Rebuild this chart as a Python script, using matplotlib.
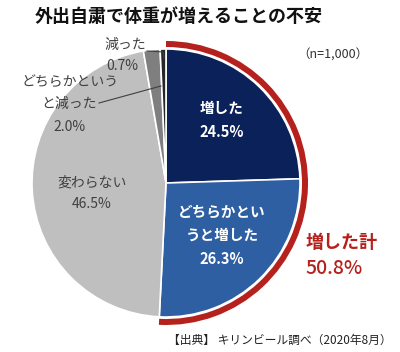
import matplotlib.pyplot as plt
from matplotlib.patches import Wedge

plt.rcParams['font.family'] = ['Noto Sans CJK JP', 'DejaVu Sans']

labels = ['増した', 'どちらかというと増した', '変わらない', 'どちらかというと減った', '減った']
values = [24.5, 26.3, 46.5, 2.0, 0.7]
colors = ['#0b2159', '#2e5fa3', '#bfbfbf', '#7f7f7f', '#262626']
increase_total = 50.8

H = 352
def Y(y):
    return H - y

f = plt.figure(figsize=(4, 3.52), dpi=100)
ax = f.add_axes([0, 0, 1, 1])
ax.set_xlim(0, 400)
ax.set_ylim(0, H)
ax.set_aspect('equal')
ax.axis('off')

cx, cy, r = 166, Y(183), 134
ax.pie(values, colors=colors, startangle=90, counterclock=False,
       center=(cx, cy), radius=r,
       wedgeprops=dict(edgecolor='white', linewidth=1.2))
ax.set_xlim(0, 400)
ax.set_ylim(0, H)

# red arc for the "increased" total
ang = increase_total / 100 * 360
ax.add_patch(Wedge((cx, cy), 142, 90 - ang, 90, width=6, color='#b5211c', lw=0))

# labels
gray = '#404040'
fs = 10
ax.text(146, Y(45), '減った', ha='right', va='center', fontsize=fs, color=gray)
ax.text(122, Y(66), f'{values[4]}%', ha='center', va='center', fontsize=fs, color=gray)
ax.plot([147, 163, 164], [Y(51), Y(52), Y(58)], color='#404040', lw=0.8)

ax.text(70, Y(82), 'どちらかという', ha='center', va='center', fontsize=fs, color=gray)
ax.text(97, Y(104), 'と減った', ha='right', va='center', fontsize=fs, color=gray)
ax.text(70, Y(127), f'{values[3]}%', ha='center', va='center', fontsize=fs, color=gray)
ax.plot([99, 161], [Y(103), Y(86)], color='#404040', lw=0.8)

ax.text(92, Y(183), '変わらない', ha='center', va='center', fontsize=fs, color=gray)
ax.text(92, Y(204), f'{values[2]}%', ha='center', va='center', fontsize=fs, color=gray)

ax.text(222, Y(108), '増した', ha='center', va='center', fontsize=10.5,
        color='white', fontweight='bold')
ax.text(222, Y(132), f'{values[0]}%', ha='center', va='center', fontsize=10.5,
        color='white', fontweight='bold')
ax.text(222, Y(212), 'どちらかとい', ha='center', va='center', fontsize=10.5,
        color='white', fontweight='bold')
ax.text(222, Y(235), 'うと増した', ha='center', va='center', fontsize=10.5,
        color='white', fontweight='bold')
ax.text(222, Y(259), f'{values[1]}%', ha='center', va='center', fontsize=10.5,
        color='white', fontweight='bold')

ax.text(306, Y(243), '増した計', ha='left', va='center', fontsize=13,
        color='#b5211c', fontweight='bold')
ax.text(305, Y(268), f'{increase_total}%', ha='left', va='center', fontsize=14,
        color='#b5211c', fontweight='medium')

ax.text(333, Y(55), '（n=1,000）', ha='center', va='center', fontsize=9, color='#333333')
ax.text(35, Y(16), '外出自粛で体重が増えることの不安', ha='left', va='center',
        fontsize=13, fontweight='bold', color='#111111')
ax.text(392, Y(340), '【出典】 キリンビール調べ（2020年8月）', ha='right', va='center',
        fontsize=8.5, color='#222222')

f.patch.set_facecolor('white')
f.savefig('out.png', dpi=100)
